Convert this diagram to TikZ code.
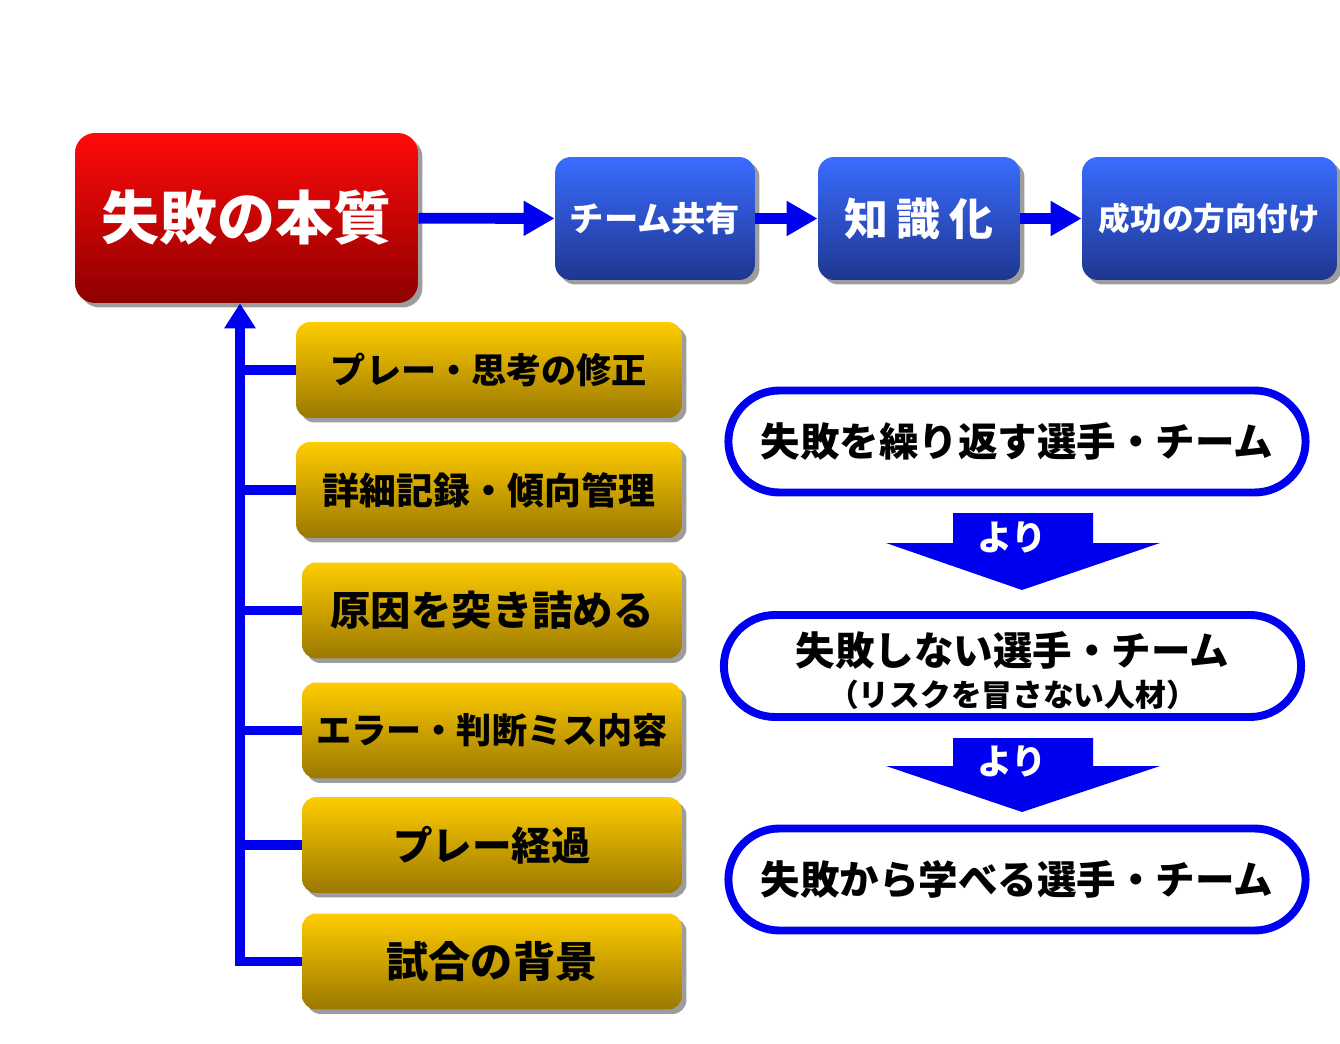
\documentclass[tikz,border=0pt]{standalone}
\usepackage{fontspec}
\setmainfont{Noto Sans CJK JP}[BoldFont={Noto Sans CJK JP Black}]
\usetikzlibrary{arrows.meta,shadows,shapes.misc}

\definecolor{linkblue}{HTML}{0000F0}
\definecolor{redtop}{HTML}{FF0A0A}
\definecolor{redbot}{HTML}{8E0000}
\definecolor{bluetop}{HTML}{3A6CFF}
\definecolor{bluebot}{HTML}{1E3690}
\definecolor{yeltop}{HTML}{FFCC00}
\definecolor{yelbot}{HTML}{9A7800}

\tikzset{
  boxshadow/.style={drop shadow={shadow xshift=0.09cm, shadow yshift=-0.09cm, fill=black!55, opacity=0.7}},
  redbox/.style={rectangle, rounded corners=0.4cm, minimum width=6.86cm, minimum height=3.4cm,
    top color=redtop, bottom color=redbot, text=white, boxshadow,
    font=\bfseries\fontsize{33}{36}\selectfont},
  bluebox/.style={rectangle, rounded corners=0.32cm, minimum height=2.46cm,
    top color=bluetop, bottom color=bluebot, text=white, boxshadow},
  yellowbox/.style={rectangle, rounded corners=0.28cm, minimum height=1.92cm,
    top color=yeltop, bottom color=yelbot, text=black, boxshadow},
  pillbox/.style={rounded rectangle, draw=linkblue, line width=4.5pt, fill=white,
    minimum width=11.78cm, minimum height=2.04cm, align=center,
    font=\bfseries\fontsize{22.5}{27}\selectfont},
  link/.style={linkblue, line width=5.4pt},
  toplink/.style={linkblue, line width=6.2pt, -{Triangle[length=0.62cm,width=0.66cm]}},
  yoritxt/.style={text=white, font=\bfseries\fontsize{20}{24}\selectfont},
}

\begin{document}
\begin{tikzpicture}[x=0.02cm, y=-0.02cm]
  \useasboundingbox (0,0) rectangle (1340,1044);

  % top row
  \node [redbox] (essence) at (246.5,218) {失敗の本質};
  \node [bluebox, minimum width=4cm, font=\bfseries\fontsize{19.5}{22}\selectfont] (share) at (655,218.5) {チーム共有};
  \node [bluebox, minimum width=4.04cm, font=\bfseries\fontsize{25}{28}\selectfont] (knowledge) at (919,218.5) {知\hspace{0.2em}識\hspace{0.2em}化};
  \node [bluebox, minimum width=5.1cm, font=\bfseries\fontsize{18}{21}\selectfont] (success) at (1209.5,218.5) {成功の方向付け};

  \draw [toplink] (essence) -- (share);
  \draw [toplink] (share) -- (knowledge);
  \draw [toplink] (knowledge) -- (success);

  % left column
  \node [yellowbox, minimum width=7.72cm, font=\bfseries\fontsize{20}{24}\selectfont] (fix) at (489,370) {プレー・思考の修正};
  \node [yellowbox, minimum width=7.72cm, font=\bfseries\fontsize{21}{24}\selectfont] (record) at (489,490) {詳細記録・傾向管理};
  \node [yellowbox, minimum width=7.6cm, font=\bfseries\fontsize{23}{26}\selectfont] (cause) at (492,610.5) {原因を突き詰める};
  \node [yellowbox, minimum width=7.6cm, font=\bfseries\fontsize{20}{24}\selectfont] (error) at (492,730.5) {エラー・判断ミス内容};
  \node [yellowbox, minimum width=7.6cm, font=\bfseries\fontsize{22.5}{26}\selectfont] (course) at (492,845) {プレー経過};
  \node [yellowbox, minimum width=7.6cm, font=\bfseries\fontsize{24}{27}\selectfont] (backdrop) at (492,961.5) {試合の背景};

  \coordinate (trunk) at (240,0);
  \draw [link, -{Triangle[length=0.5cm,width=0.6cm]}] (backdrop.west) -- (backdrop.west -| trunk) -- (trunk |- essence.south);
  \draw [link] (fix.west) -- (fix.west -| trunk);
  \draw [link] (record.west) -- (record.west -| trunk);
  \draw [link] (cause.west) -- (cause.west -| trunk);
  \draw [link] (error.west) -- (error.west -| trunk);
  \draw [link] (course.west) -- (course.west -| trunk);

  % right column
  \node [pillbox] (repeat) at (1017,441.5) {失敗を繰り返す選手・チーム};
  \node [pillbox, inner ysep=0pt] (safe) at (1012.5,666)
    {\rule{0pt}{24.4pt}失敗しない選手・チーム\\[-3.4pt]{\fontsize{17.5}{20}\selectfont （リスクを冒さない人材）}};
  \node [pillbox] (learn) at (1017,879.5) {失敗から学べる選手・チーム};

  \fill [linkblue] (953,513) -- (1093,513) -- (1093,543) -- (1160,543) -- (1022,590) -- (886,543) -- (953,543) -- cycle;
  \node [yoritxt] (yori1) at (1012,537) {より};
  \fill [linkblue] (953,738) -- (1093,738) -- (1093,766) -- (1160,766) -- (1022,812) -- (886,766) -- (953,766) -- cycle;
  \node [yoritxt] (yori2) at (1012,761) {より};
\end{tikzpicture}
\end{document}
